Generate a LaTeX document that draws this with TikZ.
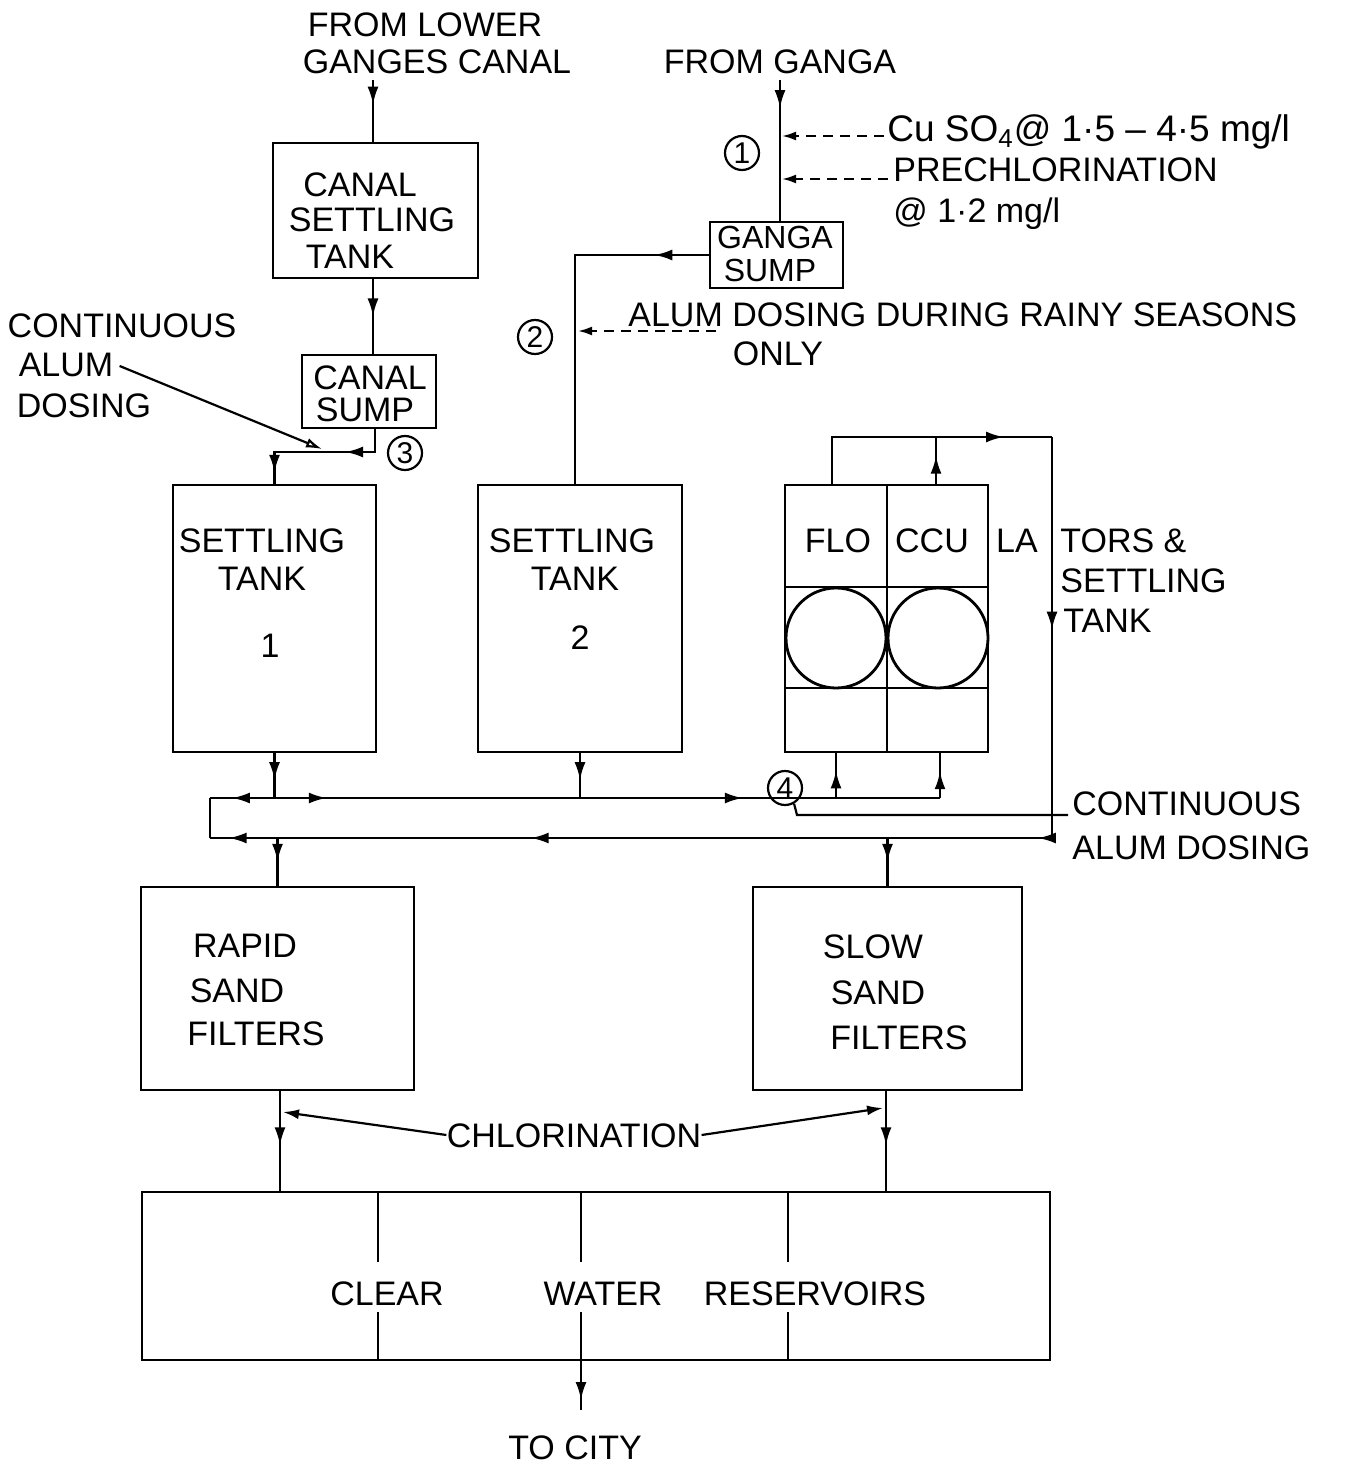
\documentclass[tikz,border=0pt]{standalone}
\usepackage{fontspec}
\setmainfont{Liberation Sans}
\usetikzlibrary{arrows.meta,decorations.markings,fit}
\tikzset{
 box/.style={draw, line width=1.4pt, inner sep=0pt},
 lbl/.style={font=\fontsize{17}{19}\selectfont, inner sep=0pt, text height=12pt, text depth=0pt},
 slbl/.style={font=\fontsize{16}{18}\selectfont, inner sep=0pt, text height=11pt, text depth=0pt},
 ln/.style={line width=1.3pt},
 tipf/.tip={Latex[length=9pt,width=5.5pt]},
 flow/.style={postaction={decorate, decoration={markings, mark=at position #1 with {\arrow{tipf}}}}},
 flowback/.style={postaction={decorate, decoration={markings, mark=at position #1 with {\arrowreversed{tipf}}}}},
 flowopen/.style={postaction={decorate, decoration={markings, mark=at position #1 with {\arrow{Latex[open,length=9pt,width=5.5pt]}}}}},
 num/.style={draw, circle, line width=1.1pt, minimum size=17pt, inner sep=0pt, font=\fontsize{15}{15}\selectfont},
 dsh/.style={line width=1.1pt, dash pattern=on 5pt off 3.5pt},
 floc/.style={draw, circle, line width=1.4pt, minimum size=50pt, inner sep=0pt},
}
\begin{document}
\begin{tikzpicture}[x=0.5pt,y=-0.5pt]
\useasboundingbox (0,0) rectangle (1347,1465);

% ---------- boxes ----------
\node[box, fit={(273,143) (478,278)}] (cst) {};
\node[box, fit={(302,355) (436,428)}] (csump) {};
\node[box, fit={(710,222) (843,288)}] (gsump) {};
\node[box, fit={(173,485) (376,752)}] (st1) {};
\node[box, fit={(478,485) (682,752)}] (st2) {};
\node[box, fit={(785,485) (988,752)}] (fl) {};
\node[box, fit={(141,887) (414,1090)}] (rsf) {};
\node[box, fit={(753,887) (1022,1090)}] (ssf) {};
\node[box, fit={(142,1192) (1050,1360)}] (cwr) {};

% flocculator interior
\draw[ln] (887,485) -- (887,752);
\draw[ln] (785,587) -- (988,587);
\draw[ln] (785,688) -- (988,688);
\node[floc] (fc1) at (836,638) {};
\node[floc] (fc2) at (938,638) {};

% clear water reservoir dividers
\foreach \xx in {378,581,788} {
  \draw[ln] (\xx,1192) -- (\xx,1262);
  \draw[ln] (\xx,1312) -- (\xx,1360);
}

% ---------- texts ----------
\node[lbl] (tl1) at (425,25) {FROM LOWER};
\node[lbl] (tl2) at (437,62) {GANGES CANAL};
\node[lbl] (tg) at (780,62) {FROM GANGA};

\node[lbl] at (360,185) {CANAL};
\node[lbl] at (372,220) {SETTLING};
\node[lbl] at (350,257) {TANK};

\node[lbl] at (370,377) {CANAL};
\node[lbl] at (365,409) {SUMP};

\node[lbl] (ca1) at (122,325) {CONTINUOUS};
\node[lbl] (ca2) at (66,364) {ALUM};
\node[lbl] (ca3) at (84,405) {DOSING};

\node[slbl] at (775,238) {GANGA};
\node[slbl] at (770,271) {SUMP};

\node[lbl, anchor=west, font=\fontsize{18.5}{20}\selectfont] (cu) at (887,130) {Cu SO\textsubscript{4}@ 1·5 – 4·5 mg/l};
\node[lbl, anchor=west] (pre) at (893,170) {PRECHLORINATION};
\node[lbl, anchor=west] (pre2) at (893,211) {@ 1·2 mg/l};

\node[lbl, anchor=west] (rain) at (628,315) {ALUM DOSING DURING RAINY SEASONS};
\node[lbl] (only) at (778,353) {ONLY};

\node[lbl] at (262,540) {SETTLING};
\node[lbl] at (262,578) {TANK};
\node[lbl] at (270,645) {1};
\node[lbl] at (572,540) {SETTLING};
\node[lbl] at (575,578) {TANK};
\node[lbl] at (580,637) {2};

\node[lbl] at (838,540) {FLO};
\node[lbl] at (932,540) {CCU};
\node[lbl] at (1017,540) {LA};
\node[lbl, anchor=west] at (1060,540) {TORS \&};
\node[lbl, anchor=west] at (1060,580) {SETTLING};
\node[lbl, anchor=west] at (1063,620) {TANK};

\node[lbl, anchor=west] (cad1) at (1072,803) {CONTINUOUS};
\node[lbl, anchor=west] (cad2) at (1072,847) {ALUM DOSING};

\node[lbl] at (245,945) {RAPID};
\node[lbl] at (237,990) {SAND};
\node[lbl] at (256,1033) {FILTERS};
\node[lbl] at (873,946) {SLOW};
\node[lbl] at (878,992) {SAND};
\node[lbl] at (899,1037) {FILTERS};

\node[lbl] (chl) at (574,1135) {CHLORINATION};

\node[lbl] at (387,1293) {CLEAR};
\node[lbl] at (603,1293) {WATER};
\node[lbl] at (815,1293) {RESERVOIRS};
\node[lbl] (city) at (575,1447) {TO CITY};

\node[num] (n1) at (742,153) {1};
\node[num] (n2) at (535,337) {2};
\node[num] (n3) at (405,453) {3};
\node[num] (n4) at (785,788) {4};

% ---------- connectors ----------
% canal line
\coordinate (cin) at (373,80);
\draw[ln, flow=0.4] (cin) -- (cin |- cst.north);
\draw[ln, flow=0.5] (cst.south -| cin) -- (cin |- csump.north);
\coordinate (j3a) at (375,452);
\coordinate (j3b) at (274.5,452);
\draw[ln, flow=0.34, flow=0.93] (csump.south -| j3a) -- (j3a) -- (j3b) -- (st1.north);
% alum leader (left)
\draw[line width=1.1pt, -{Latex[open,length=8pt,width=5pt]}] (ca2.east) ++(6,2) -- (322,449);

% ganga line
\coordinate (gin) at (780,80);
\draw[ln, flow=0.2] (gin) -- (gin |- gsump.north);
\draw[dsh, -{Latex[length=7pt,width=4.5pt]}] (884,136) -- (782,136);
\draw[dsh, -{Latex[length=7pt,width=4.5pt]}] (888,179) -- (782,179);
\coordinate (g2) at (575,255);
\draw[ln, flow=0.15] (gsump.west |- g2) -- (g2) -- (st2.north -| g2);
\draw[dsh, -{Latex[length=7pt,width=4.5pt]}] (716,331) -- (578,331);

% flocculator loop
\coordinate (ft1) at (832,437);
\coordinate (ft2) at (1052,437);
\coordinate (fb) at (1052,838);
\coordinate (lb) at (210,838);
\coordinate (lt) at (210,798);
\coordinate (j4r) at (940,798);
\draw[ln, flow=0.82] (fl.north -| ft1) -- (ft1) -- (ft2);
\draw[ln, flow=0.6] (fl.north -| 936,0) -- (936,437);
\draw[ln, flow=0.155, flow=0.334, flow=0.742, flow=0.985] (ft2) -- (fb) -- (lb);
\draw[ln] (lb) -- (lt);
\draw[ln, flowback=0.03, flow=0.16, flowopen=0.73] (lt) -- (j4r);
\draw[ln, flow=0.6] (j4r) -- (j4r |- fl.south);
\draw[ln, flow=0.6] (836,798) -- (836,752);
% settling tank outputs
\draw[ln, flow=0.6] (st1.south) -- (st1.south |- lt);
\draw[ln, flow=0.6] (st2.south) -- (st2.south |- lt);
% right continuous alum dosing
\draw[line width=1.1pt] (cad1.west) ++(-4,12) -- (797,815) -- (n4.-60);
% to filters
\draw[ln, flow=0.5] (rsf.north |- lb) -- (rsf.north);
\draw[ln, flow=0.5] (ssf.north |- lb) -- (ssf.north);
% filter outputs
\coordinate (r1) at (280,1090);
\coordinate (r2) at (886,1090);
\draw[ln, flow=0.55] (r1) -- (r1 |- cwr.north);
\draw[ln, flow=0.55] (r2) -- (r2 |- cwr.north);
\draw[line width=1.1pt, -{Latex[length=8pt,width=5pt]}] (chl.west) -- (283,1112);
\draw[line width=1.1pt, -{Latex[length=8pt,width=5pt]}] (chl.east) -- (883,1108);
% to city
\coordinate (cty) at (581,1360);
\draw[ln, flow=0.8] (cty) -- (581,1410);
\end{tikzpicture}
\end{document}
